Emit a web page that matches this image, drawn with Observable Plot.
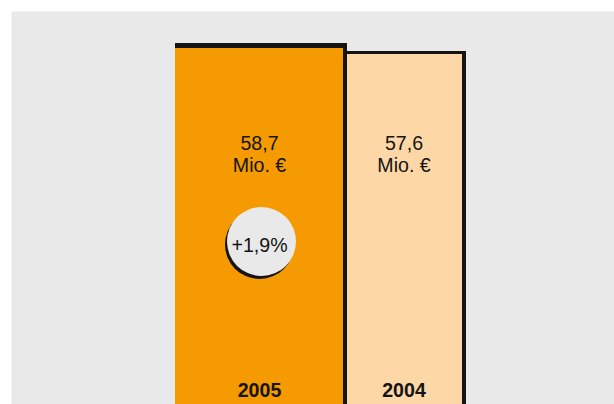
<!DOCTYPE html>
<html>
<head>
<meta charset="utf-8">
<script src="https://cdn.jsdelivr.net/npm/d3@7"></script>
<script src="https://cdn.jsdelivr.net/npm/@observablehq/plot@0.6"></script>
<style>
  html, body { margin: 0; padding: 0; background: #fff; overflow: hidden; }
  #chart svg { display: block; }
</style>
</head>
<body>
<div id="chart"></div>
<script>
// Data
const years = ["2005", "2004"];
const values = [58.7, 57.6];
const valueLabels = ["58,7", "57,6"];
const unitLabel = "Mio. €";
const changeLabel = "+1,9%";
const fills = ["#f59a00", "#fed7a6"];

// Layout (pixel-scale helpers, not data)
const spans = [[0, 172], [168, 291]];
const ink = "#141414";

const rows = years.map((y, i) => ({
  year: y, value: values[i], label: valueLabels[i] + "\n" + unitLabel, fill: fills[i],
  x1: spans[i][0], x2: spans[i][1],
  xc: i === 0 ? (spans[i][0] + spans[i][1] - 4) / 2 : (spans[i][0] + spans[i][1]) / 2 - 1
}));
const cur = rows[0], prev = rows[1];

const font = "'Liberation Sans', Arial, sans-serif";
const fs = 19.6;

const chart = Plot.plot({
  width: 614,
  height: 404,
  marginTop: 11, marginLeft: 11, marginRight: 0, marginBottom: 0,
  style: { background: "#fff", fontFamily: font, overflow: "hidden" },
  x: { type: "linear", domain: [0, 291], range: [175, 466], axis: null },
  y: { type: "linear", domain: [0, 58.7], range: [470, 43], axis: null },
  marks: [
    Plot.frame({ fill: "#e8e9e8", stroke: null }),
    // borders
    Plot.rectY([prev], { x1: "x1", x2: "x2", y1: 0, y2: "value", fill: ink, clip: true }),
    Plot.rectY([cur], { x1: "x1", x2: "x2", y1: 0, y2: "value", fill: ink, clip: true }),
    // fills
    Plot.rectY([cur], { x1: "x1", x2: "x2", y1: 0, y2: "value", fill: "fill", insetTop: 5, insetRight: 4, clip: true }),
    Plot.rectY([prev], { x1: "x1", x2: "x2", y1: 0, y2: "value", fill: "fill", insetTop: 3, insetLeft: 4, insetRight: 4, clip: true }),
    // value labels (two lines)
    Plot.text(rows, { x: "xc", frameAnchor: "top", dy: 171 - 11, text: "label", fontSize: fs, lineHeight: 22 / fs, fill: ink, lineAnchor: "bottom" }),
    // change badge
    Plot.dot([cur], { x: "xc", frameAnchor: "top", dy: 241 - 11 + 3, dx: 0, r: 34.5, fill: ink, stroke: null }),
    Plot.dot([cur], { x: "xc", frameAnchor: "top", dy: 241 - 11, dx: 2, r: 34.5, fill: "#e8e9e8", stroke: null }),
    Plot.text([cur], { x: "xc", frameAnchor: "top", dy: 251.5 - 11, text: () => changeLabel, fontSize: fs, fill: ink, lineAnchor: "bottom" }),
    // year labels
    Plot.text(rows, { x: "xc", frameAnchor: "top", dy: 396 - 11, text: "year", fontSize: fs, fontWeight: "bold", fill: ink, lineAnchor: "bottom" })
  ]
});
document.getElementById("chart").appendChild(chart);
</script>
</body>
</html>
